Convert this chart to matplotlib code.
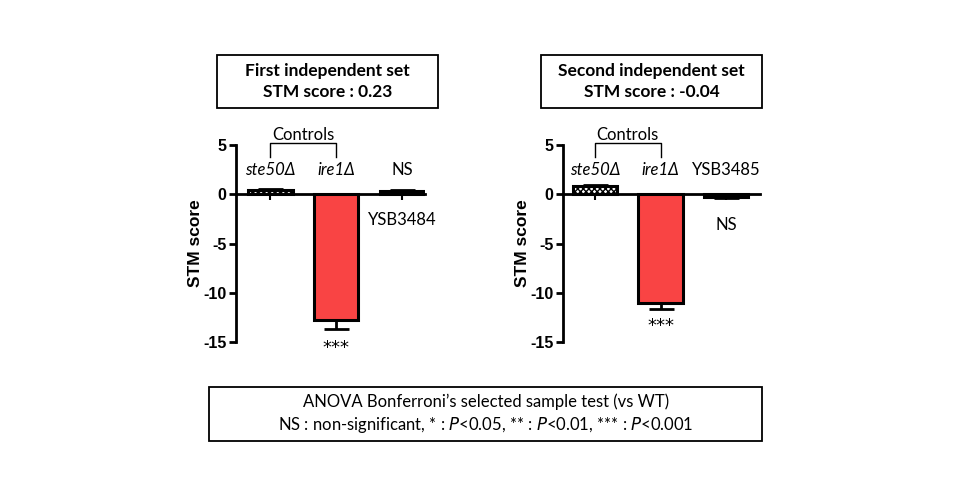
import matplotlib
matplotlib.use("Agg")
import matplotlib.pyplot as plt
from matplotlib.patches import Rectangle
from matplotlib.lines import Line2D

# ---- data ----
strains_set1 = ["ste50Δ", "ire1Δ", "YSB3484"]
values_set1 = [0.4, -12.8, 0.3]
errors_set1 = [0.1, 0.9, 0.1]
signif_set1 = ["", "***", "NS"]

strains_set2 = ["ste50Δ", "ire1Δ", "YSB3485"]
values_set2 = [0.8, -11.0, -0.3]
errors_set2 = [0.1, 0.6, 0.1]
signif_set2 = ["", "***", "NS"]

titles = ["First independent set\nSTM score : 0.23",
          "Second independent set\nSTM score : -0.04"]
yticks = [5, 0, -5, -10, -15]
ylabel = "STM score"

W, H = 960, 500
plt.rcParams["hatch.linewidth"] = 1.0
fig = plt.figure(figsize=(9.6, 5.0), dpi=100)

CAL = ["Lato", "DejaVu Sans"]
ARIAL = ["Liberation Sans", "DejaVu Sans"]
RED = "#F94444"

def fx(px):
    return px / W

def fy(py):
    return 1 - py / H

def panel(ax_left_px, ax_right_px, xlim, strains, values, errors, signif, label_pos):
    y_top, y_bot = 145, 342
    ax = fig.add_axes([fx(ax_left_px), fy(y_bot), fx(ax_right_px - ax_left_px),
                       (y_bot - y_top) / H])
    ax.set_xlim(*xlim)
    ax.set_ylim(-15, 5)
    xs = list(range(len(values)))
    colors = ["white", RED, "white"]
    hatches = ["xxxxxx", None, None]
    for x, v, c, h in zip(xs, values, colors, hatches):
        ax.bar(x, v, width=0.68, color=c, edgecolor="black", linewidth=2.2,
               hatch=h, zorder=2)
    for x, v, e in zip(xs, values, errors):
        lo, up = (e, 0) if v < 0 else (0, e)
        ax.errorbar(x, v, yerr=[[lo], [up]], fmt="none", ecolor="black",
                    elinewidth=2, capsize=9, capthick=2, zorder=3)
    for s in ["top", "right"]:
        ax.spines[s].set_visible(False)
    ax.spines["left"].set_linewidth(2)
    ax.spines["bottom"].set_linewidth(2)
    ax.spines["bottom"].set_position(("data", 0))
    ax.spines["bottom"].set_zorder(4)
    ax.set_xticks(xs)
    ax.set_xticklabels([])
    ax.tick_params(axis="x", length=4, width=1.5, direction="out")
    ax.set_yticks(yticks)
    ax.set_yticklabels([str(t) for t in yticks], fontfamily=ARIAL,
                       fontweight="bold", fontsize=11.5)
    ax.tick_params(axis="y", length=5, width=2, pad=2)
    ax.set_ylabel(ylabel, fontfamily=ARIAL, fontweight="bold", fontsize=12.5,
                  labelpad=0)
    ax.patch.set_alpha(0)
    # strain and significance labels
    for x, name, sig, pos in zip(xs, strains, signif, label_pos):
        name_y, sig_y = pos
        style = "italic" if "Δ" in name else "normal"
        ax.text(x, name_y, name, ha="center", va="center", fontfamily=CAL,
                fontstyle=style, fontsize=12, clip_on=False)
        if sig == "***":
            ax.text(x, sig_y, sig, ha="center", va="baseline",
                    fontfamily=["DejaVu Sans"], fontsize=13, clip_on=False)
        elif sig:
            ax.text(x, sig_y, sig, ha="center", va="center", fontfamily=CAL,
                    fontsize=12, clip_on=False)
    # Controls bracket
    ax.add_line(Line2D([0, 0, 1, 1], [3.8, 5.25, 5.25, 3.8], color="black",
                       linewidth=1.0, clip_on=False))
    ax.text(0.5, 6.0, "Controls", ha="center", va="center", fontfamily=CAL,
            fontsize=12, clip_on=False)
    return ax

panel(236, 425, (-0.52, 2.35), strains_set1, values_set1, errors_set1, signif_set1,
      [(2.5, 0), (2.5, -16.15), (-2.6, 2.5)])
panel(563, 760, (-0.49, 2.52), strains_set2, values_set2, errors_set2, signif_set2,
      [(2.5, 0), (2.5, -13.9), (2.5, -3.1)])

def box(x0, y0, x1, y1):
    fig.patches.append(Rectangle((fx(x0), fy(y1)), fx(x1 - x0), (y1 - y0) / H,
                                 transform=fig.transFigure, fill=False,
                                 edgecolor="black", linewidth=1.3))

box(217, 55, 438, 108)
fig.text(fx((217 + 438) / 2), fy(81.5), titles[0], ha="center", va="center",
         fontfamily=CAL, fontweight="bold", fontsize=12.5, linespacing=1.35)
box(541, 55, 762, 108)
fig.text(fx((541 + 762) / 2), fy(81.5), titles[1], ha="center", va="center",
         fontfamily=CAL, fontweight="bold", fontsize=12.5, linespacing=1.35)

box(209, 387, 762, 441)
fig.text(fx(486), fy(402), "ANOVA Bonferroni’s selected sample test (vs WT)",
         ha="center", va="center", fontfamily=CAL, fontsize=12)
fig.text(fx(486), fy(425),
         r"NS : non-significant, * : $\it{P}$<0.05, ** : $\it{P}$<0.01, *** : $\it{P}$<0.001",
         ha="center", va="center", fontfamily=CAL, fontsize=12)

fig.savefig("out.png", dpi=100)
